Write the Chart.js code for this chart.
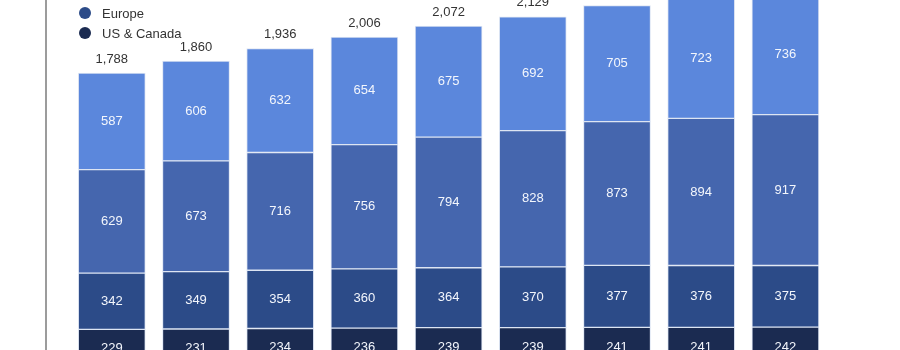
<!DOCTYPE html>
<html>
<head>
<meta charset="utf-8">
<title>Monthly active users by region</title>
<script src="https://cdn.jsdelivr.net/npm/chart.js@4/dist/chart.umd.min.js"></script>
<style>
  html, body { margin: 0; padding: 0; background: #fff; overflow: hidden; }
  #wrap { position: relative; width: 900px; height: 350px; overflow: hidden; }
  #chartBox { position: absolute; left: 0; top: -69px; width: 900px; height: 436px; }
  #legend {
    position: absolute; left: 79px; top: -37px; margin: 0; padding: 0; list-style: none;
    font: 13px "Liberation Sans", Arial, sans-serif; color: #333;
  }
  #legend li { height: 20px; display: flex; align-items: center; }
  #legend .dot { width: 12px; height: 12px; border-radius: 50%; margin-right: 11px; }
</style>
</head>
<body>
<div id="wrap">
  <div id="chartBox"><canvas id="mauChart"></canvas></div>
  <ul id="legend"></ul>
</div>
<script>
// quarterly MAUs in millions, per region
const quarters = ["Q3 '16", "Q4 '16", "Q1 '17", "Q2 '17", "Q3 '17", "Q4 '17", "Q1 '18", "Q2 '18", "Q3 '18"];
const usCanada = [229, 231, 234, 236, 239, 239, 241, 241, 242];
const europe = [342, 349, 354, 360, 364, 370, 377, 376, 375];
const asiaPacific = [629, 673, 716, 756, 794, 828, 873, 894, 917];
const restOfWorld = [587, 606, 632, 654, 675, 692, 705, 723, 736];
const totals = [1788, 1860, 1936, 2006, 2072, 2129, 2196, 2234, 2271];

const FONT = '13px "Liberation Sans", Arial, sans-serif';

function points(values) {
    return values.map((v, i) => ({ x: i + 1, y: v }));
}

function series(label, values, color) {
    return {
        label: label,
        data: points(values),
        backgroundColor: color,
        borderColor: '#dde5f3',
        borderWidth: 1,
        borderSkipped: false,
        barThickness: 67
    };
}

// white value inside each segment, total above each stack
const barLabels = {
    id: 'barLabels',
    afterDatasetsDraw(chart) {
        const ctx = chart.ctx;
        ctx.save();
        ctx.font = FONT;
        ctx.textAlign = 'center';
        ctx.textBaseline = 'middle';
        ctx.fillStyle = '#f3f6fc';
        chart.data.datasets.forEach((ds, di) => {
            chart.getDatasetMeta(di).data.forEach((bar, i) => {
                ctx.fillText(ds.data[i].y, bar.x, (bar.y + bar.base) / 2);
            });
        });
        const topMeta = chart.getDatasetMeta(chart.data.datasets.length - 1);
        ctx.fillStyle = '#333';
        topMeta.data.forEach((bar, i) => {
            ctx.fillText(totals[i].toLocaleString('en-US'), bar.x, bar.y - 14);
        });
        ctx.restore();
    }
};

const ctx = document.getElementById('mauChart').getContext('2d');
const mauChart = new Chart(ctx, {
    type: 'bar',
    data: {
        labels: quarters,
        datasets: [
            series('US & Canada', usCanada, '#1b2b51'),
            series('Europe', europe, '#2c4b88'),
            series('Asia-Pacific', asiaPacific, '#4566ae'),
            series('Rest of World', restOfWorld, '#5b87dc')
        ]
    },
    options: {
        responsive: true,
        maintainAspectRatio: false,
        animation: false,
        layout: { padding: 0 },
        plugins: {
            legend: { display: false },
            tooltip: { enabled: false }
        },
        scales: {
            x: {
                type: 'linear',
                stacked: true,
                offset: false,
                min: 0.2185,
                max: 10.361,
                display: false
            },
            y: {
                stacked: true,
                min: 0,
                max: 2650,
                ticks: { display: false },
                grid: { display: false, drawTicks: false },
                border: { display: true, color: '#9c9c9c', width: 2 },
                afterFit(scale) { scale.width = 46; }
            }
        }
    },
    plugins: [barLabels]
});

// legend list, top series first
const legendList = document.getElementById('legend');
mauChart.data.datasets.slice().reverse().forEach(ds => {
    const li = document.createElement('li');
    const dot = document.createElement('span');
    dot.className = 'dot';
    dot.style.background = ds.backgroundColor;
    li.appendChild(dot);
    li.appendChild(document.createTextNode(ds.label));
    legendList.appendChild(li);
});
</script>
</body>
</html>
